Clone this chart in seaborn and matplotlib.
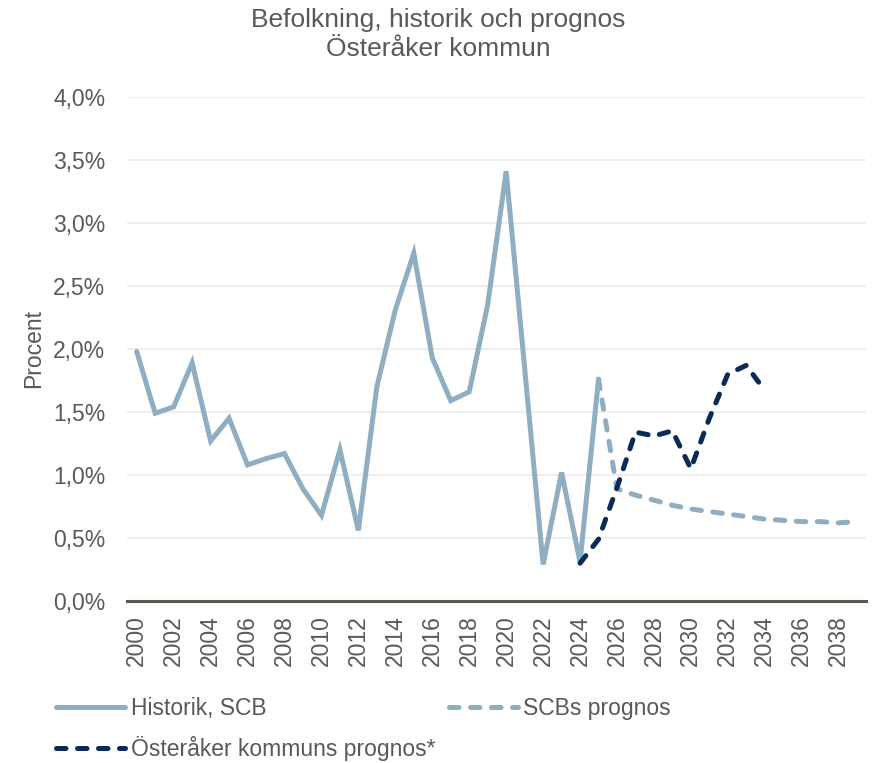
import matplotlib
matplotlib.use("Agg")
import matplotlib.pyplot as plt
from matplotlib.lines import Line2D
from matplotlib.ticker import FuncFormatter
import pandas as pd
import seaborn as sns

# data (procent per år)
years_hist = list(range(2000, 2026))
hist = [1.98, 1.49, 1.54, 1.89, 1.27, 1.45, 1.08, 1.13, 1.17, 0.89,
        0.68, 1.20, 0.56, 1.70, 2.31, 2.76, 1.93, 1.59, 1.66, 2.35,
        3.41, 1.85, 0.29, 1.02, 0.31, 1.76]

years_scb = list(range(2025, 2040))
scb = [1.76, 0.89, 0.84, 0.80, 0.76, 0.73, 0.71, 0.69, 0.67, 0.65,
       0.64, 0.63, 0.63, 0.62, 0.63]

years_kom = list(range(2024, 2035))
kom = [0.30, 0.49, 0.90, 1.34, 1.31, 1.35, 1.05, 1.45, 1.80, 1.87, 1.67]

labels = ["Historik, SCB", "SCBs prognos", "Österåker kommuns prognos*"]
title = "Befolkning, historik och prognos\nÖsteråker kommun"

c_hist = "#8FAEC1"
c_kom = "#0B2A54"
grey = "#595959"

sns.set_theme(style="white")
plt.rcParams["font.family"] = ["Liberation Sans", "DejaVu Sans"]

fig = plt.figure(figsize=(8.76, 7.63), dpi=100)
ax = fig.add_axes([0.1455, 0.2123, 0.8435, 0.6607])

df_h = pd.DataFrame({"år": years_hist, "v": hist})
df_s = pd.DataFrame({"år": years_scb, "v": scb})
df_k = pd.DataFrame({"år": years_kom, "v": kom})

lw = 3.6
dash = (1.9, 2.3)
sns.lineplot(data=df_s, x="år", y="v", ax=ax, color=c_hist, lw=lw, zorder=2)
ax.lines[-1].set_dashes(dash)
ax.lines[-1].set_dash_capstyle("round")
sns.lineplot(data=df_h, x="år", y="v", ax=ax, color=c_hist, lw=lw, zorder=3)
ax.lines[-1].set_solid_capstyle("round")
ax.lines[-1].set_solid_joinstyle("miter")
sns.lineplot(data=df_k, x="år", y="v", ax=ax, color=c_kom, lw=lw, zorder=4)
ax.lines[-1].set_dashes(dash)
ax.lines[-1].set_dash_capstyle("round")

ax.set_xlim(1999.5, 2039.5)
ax.set_ylim(0, 4.0)
ax.set_yticks([i * 0.5 for i in range(9)])
ax.yaxis.set_major_formatter(FuncFormatter(lambda v, p: f"{v:.1f}%".replace(".", ",")))
ax.set_xticks(list(range(2000, 2039, 2)))
ax.set_xticklabels([str(y) for y in range(2000, 2039, 2)], rotation=90)

ax.grid(axis="y", color="#EBEBEB", lw=1.2)
ax.set_axisbelow(True)
for s in ["top", "right", "left"]:
    ax.spines[s].set_visible(False)
ax.spines["bottom"].set_color("#5E5750")
ax.spines["bottom"].set_linewidth(2.2)
ax.spines["bottom"].set_zorder(5)

ax.tick_params(axis="y", length=0, pad=16, labelsize=16.5, labelcolor=grey)
ax.tick_params(axis="x", length=0, pad=10, labelsize=16.5, labelcolor=grey)
ax.set_xlabel("")
ax.set_ylabel("Procent", fontsize=16.5, color=grey)
ax.yaxis.set_label_coords(-0.112, 0.5)

fig.suptitle(title, fontsize=19, color=grey, y=0.99, linespacing=1.3)

h_hist = Line2D([], [], color=c_hist, lw=lw, solid_capstyle="round")
h_scb = Line2D([], [], color=c_hist, lw=lw, dashes=dash, dash_capstyle="round")
h_kom = Line2D([], [], color=c_kom, lw=lw, dashes=dash, dash_capstyle="round")

leg_kw = dict(loc="upper left", frameon=False, fontsize=16.5,
              handlelength=3.0, handletextpad=0.25, borderaxespad=0)
leg1 = fig.legend([h_hist, h_kom], [labels[0], labels[2]],
                  bbox_to_anchor=(0.054, 0.098), labelspacing=0.7, **leg_kw)
leg2 = fig.legend([h_scb], [labels[1]],
                  bbox_to_anchor=(0.502, 0.098), **leg_kw)
for leg in (leg1, leg2):
    for t in leg.get_texts():
        t.set_color(grey)

fig.savefig("out.png", dpi=100)
